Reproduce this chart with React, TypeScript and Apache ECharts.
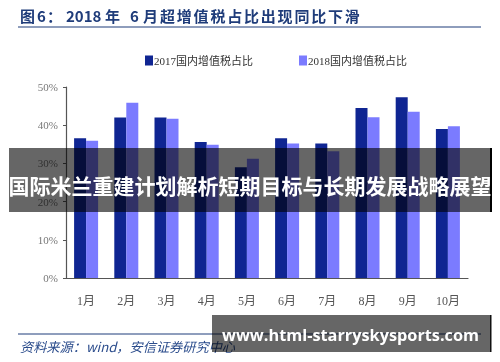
import React, { useEffect, useRef } from "react";
import * as echarts from "echarts";

const months = ["1月", "2月", "3月", "4月", "5月", "6月", "7月", "8月", "9月", "10月"];
const share2017 = [36.6, 42.0, 42.0, 35.6, 29.0, 36.6, 35.2, 44.5, 47.3, 39.0];
const share2018 = [35.9, 45.9, 41.7, 34.9, 31.2, 35.2, 33.2, 42.1, 43.5, 39.7];
const seriesNames = ["2017国内增值税占比", "2018国内增值税占比"];
const titleHead: [string, number][] = [
  ["图", 20],
  ["6", 37],
  ["：", 47],
  ["2018", 66],
  ["年", 105],
  ["6", 130],
  ["月", 143],
];
const titleTail = "超增值税占比出现同比下滑";
const bannerText = "国际米兰重建计划解析短期目标与长期发展战略展望";
const sourceText = "资料来源：wind，安信证券研究中心";
const watermarkText = "www.html-starryskysports.com";

const CJK = '"Noto Sans CJK SC", "Noto Sans", sans-serif';
const SERIF = '"Liberation Serif", "Noto Sans CJK SC", serif';

export default function App() {
  const ref = useRef<HTMLDivElement>(null);
  useEffect(() => {
    if (!ref.current) return;
    const chart = echarts.init(ref.current, undefined, { renderer: "svg" });
    const titleColor = "#1f3c7a";
    const titleEls: any[] = [];
    titleHead.forEach(([t, x]) => {
      titleEls.push({
        type: "text",
        x,
        y: 15,
        style: { text: t, fill: titleColor, font: `bold 15px ${CJK}`, textVerticalAlign: "middle" },
      });
    });
    titleTail.split("").forEach((c, i) => {
      titleEls.push({
        type: "text",
        x: 160 + i * 16.8,
        y: 15,
        style: { text: c, fill: titleColor, font: `bold 15px ${CJK}`, textVerticalAlign: "middle" },
      });
    });
    chart.setOption({
      animation: false,
      legend: {
        data: seriesNames,
        left: 140,
        top: 50,
        itemWidth: 8,
        itemHeight: 10,
        itemGap: 46,
        icon: "rect",
        textStyle: { fontFamily: SERIF, fontSize: 11, color: "#333", padding: [0, 0, 0, -4] },
      },
      grid: { left: 66, right: 32, top: 87, bottom: 84, containLabel: false },
      xAxis: {
        type: "category",
        data: months,
        axisLine: { lineStyle: { color: "#555", width: 1.2 } },
        axisTick: { inside: true, length: 4, lineStyle: { color: "#555" } },
        axisLabel: { margin: 17, fontFamily: SERIF, fontSize: 12, color: "#555" },
      },
      yAxis: {
        type: "value",
        min: 0,
        max: 50,
        interval: 10,
        splitLine: { show: false },
        axisLine: { show: true, lineStyle: { color: "#555", width: 1.2 } },
        axisTick: { show: true, length: 3, lineStyle: { color: "#555" } },
        axisLabel: { formatter: "{value}%", margin: 8, fontFamily: SERIF, fontSize: 11, color: "#777" },
      },
      series: [
        {
          name: seriesNames[0],
          type: "bar",
          data: share2017,
          barWidth: 12,
          barGap: "0%",
          itemStyle: { color: "#0f2592" },
        },
        {
          name: seriesNames[1],
          type: "bar",
          data: share2018,
          barWidth: 12,
          itemStyle: { color: "#7b7bff" },
        },
      ],
      graphic: [
        ...titleEls,
        { type: "line", shape: { x1: 18, y1: 27, x2: 481, y2: 27 }, style: { stroke: "#1f3c7a", lineWidth: 1.2 } },
        { type: "line", shape: { x1: 18, y1: 334, x2: 481, y2: 334 }, style: { stroke: "#1f3c7a", lineWidth: 1 } },
        {
          type: "text",
          x: 20,
          y: 346,
          style: { text: sourceText, fill: "#2b4c8c", font: `italic 13.2px ${CJK}`, textVerticalAlign: "middle" },
        },
        {
          type: "rect",
          z: 100,
          shape: { x: 9, y: 148, width: 482, height: 64 },
          style: { fill: "rgba(0,0,0,0.6)" },
        },
        {
          type: "rect",
          z: 101,
          shape: { x: 490, y: 148, width: 2, height: 64 },
          style: { fill: "#000" },
        },
        {
          type: "text",
          z: 102,
          x: 250,
          y: 185,
          style: {
            text: bannerText,
            fill: "#fff",
            font: `bold 21px ${CJK}`,
            textAlign: "center",
            textVerticalAlign: "middle",
          },
        },
        {
          type: "rect",
          z: 100,
          shape: { x: 212, y: 315, width: 279, height: 37 },
          style: { fill: "rgba(0,0,0,0.6)" },
        },
        {
          type: "rect",
          z: 101,
          shape: { x: 490, y: 315, width: 1.5, height: 37 },
          style: { fill: "#111" },
        },
        {
          type: "text",
          z: 102,
          x: 222,
          y: 335,
          style: {
            text: watermarkText,
            fill: "#fff",
            font: `bold 16.3px "Open Sans", "Noto Sans", sans-serif`,
            textVerticalAlign: "middle",
          },
        },
      ],
    });
    return () => chart.dispose();
  }, []);
  return <div ref={ref} style={{ position: "fixed", left: 0, top: 0, width: 500, height: 362 }} />;
}
